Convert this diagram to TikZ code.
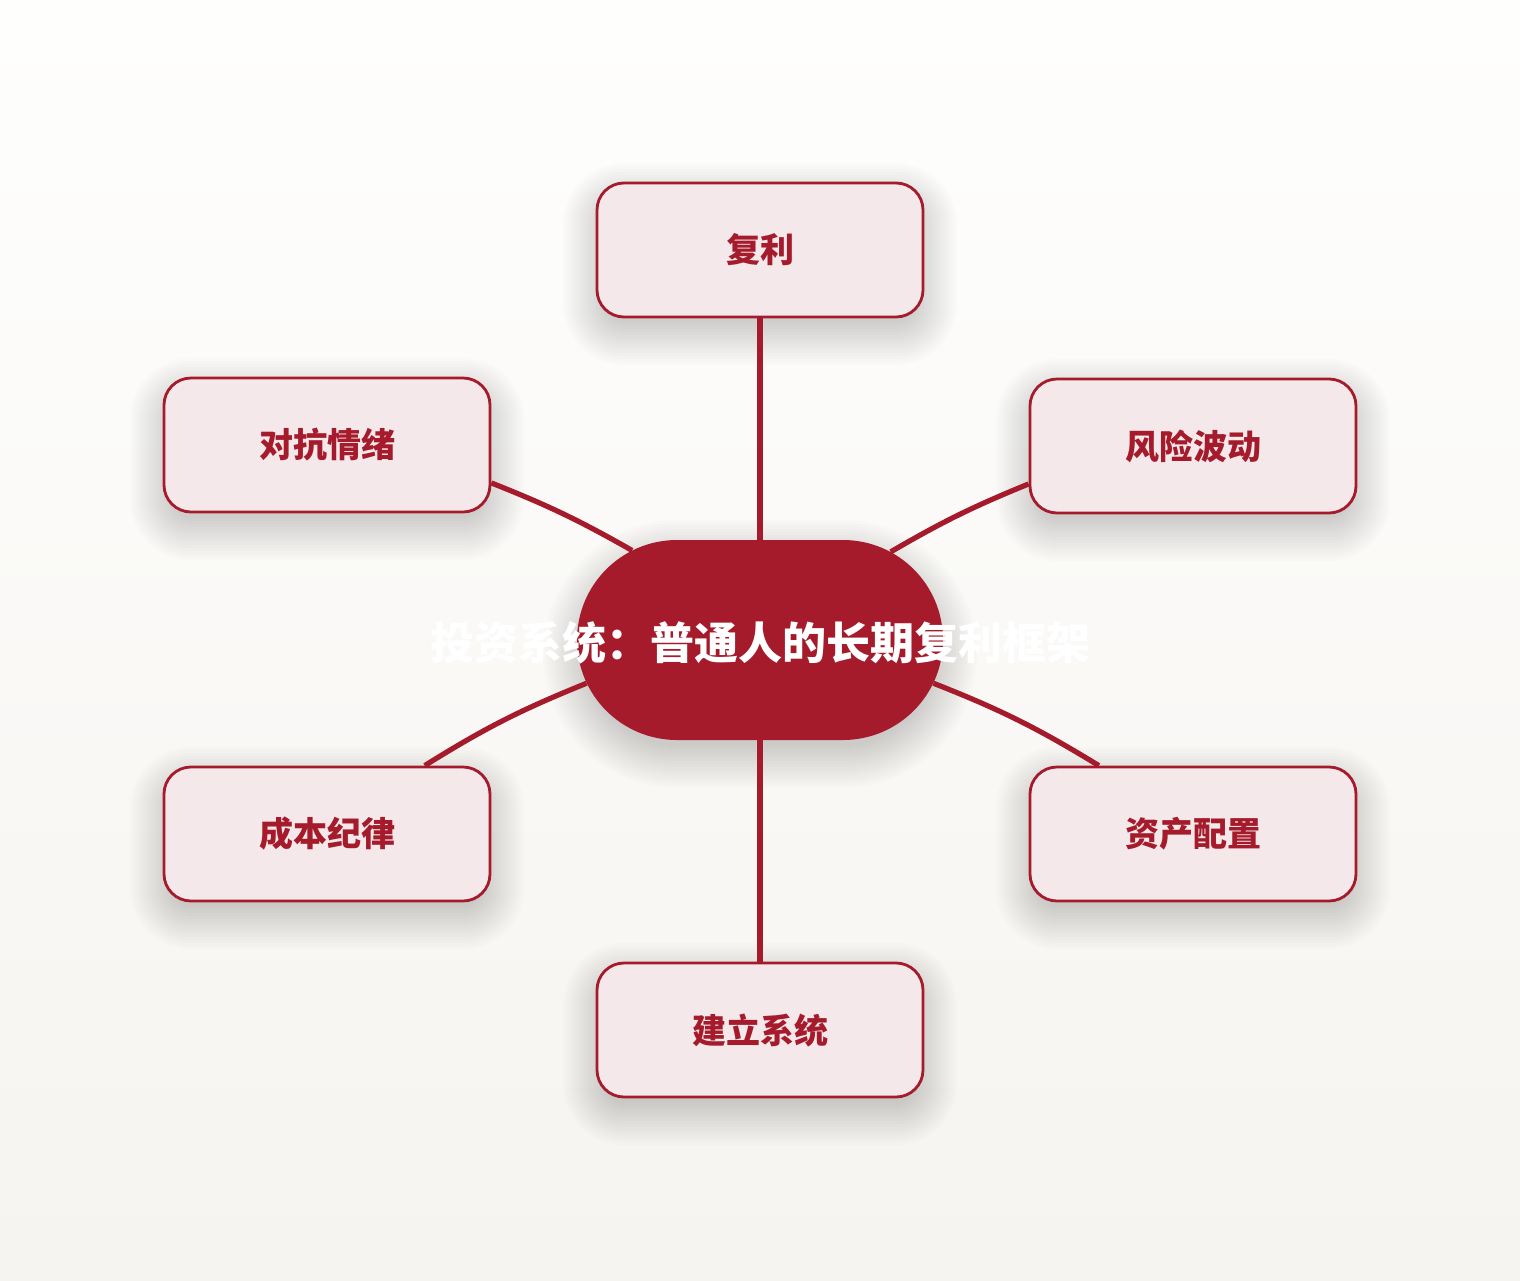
\documentclass[tikz,border=0pt]{standalone}
\usepackage{fontspec}
\newfontfamily\cjk{Noto Sans CJK SC}
\usetikzlibrary{shapes.misc}
\definecolor{deepred}{HTML}{A51B2B}
\definecolor{pinkfill}{HTML}{F4E8EA}
\definecolor{bgtop}{HTML}{FEFEFD}
\definecolor{bgbot}{HTML}{F6F4F0}
% soft shadow: centre x, centre y, width, height, corner radius
\newcommand{\mysoftshadow}[5]{%
  \foreach \s in {-8,-5,...,34}{%
    \pgfmathsetmacro{\rr}{#5+\s}%
    \fill[black, fill opacity=0.011, rounded corners=\rr pt]
      ({#1-#3/2-\s},{#2+14-#4/2-\s}) rectangle ({#1+#3/2+\s},{#2+14+#4/2+\s});
  }%
}
\begin{document}
\begin{tikzpicture}[x=1pt,y=-1pt,
  leaf/.style={draw=deepred, line width=2.8pt, fill=pinkfill, rounded corners=27pt,
    minimum width=326pt, minimum height=134pt, inner sep=0pt,
    font=\cjk\bfseries\fontsize{34}{40}\selectfont, text=deepred},
  hub/.style={rounded rectangle, fill=deepred, minimum width=366pt, minimum height=200pt,
    inner sep=0pt},
  hubtext/.style={font=\cjk\bfseries\fontsize{44}{52}\selectfont, text=white, inner sep=0pt},
  link/.style={draw=deepred, line width=5.2pt}]
\shade[top color=bgtop, bottom color=bgbot] (0,0) rectangle (1520,1280);
\useasboundingbox (0,0) rectangle (1520,1280);

\mysoftshadow{760}{640}{366}{200}{100}
\mysoftshadow{760}{250}{326}{134}{27}
\mysoftshadow{327}{445}{326}{134}{27}
\mysoftshadow{1193}{446}{326}{134}{27}
\mysoftshadow{327}{834}{326}{134}{27}
\mysoftshadow{1193}{834}{326}{134}{27}
\mysoftshadow{760}{1030}{326}{134}{27}

\node[hub] (hub) at (760,640) {};
\node[leaf] (top) at (760,250) {\raisebox{-2pt}{复利}};
\node[leaf] (ul) at (327,445) {\raisebox{-2pt}{对抗情绪}};
\node[leaf] (ur) at (1193,446) {\raisebox{-2pt}{风险波动}};
\node[leaf] (ll) at (327,834) {\raisebox{-2pt}{成本纪律}};
\node[leaf] (lr) at (1193,834) {\raisebox{-2pt}{资产配置}};
\node[leaf] (bot) at (760,1030) {\raisebox{-2pt}{建立系统}};

\draw[link] (hub.90) -- (top.south);
\draw[link] (hub.270) -- (bot.north);
\draw[link] (ul.-13.5) to[bend left=4] (hub.145.6);
\draw[link] (hub.194.1) to[bend right=5] (ll.35.8);
\draw[link] (ur.193.8) to[bend right=4] (hub.34.4);
\draw[link] (hub.-14.4) to[bend left=5] (lr.144.2);

\node[hubtext] (title) at (760,643) {投资系统：普通人的长期复利框架};
\end{tikzpicture}
\end{document}
